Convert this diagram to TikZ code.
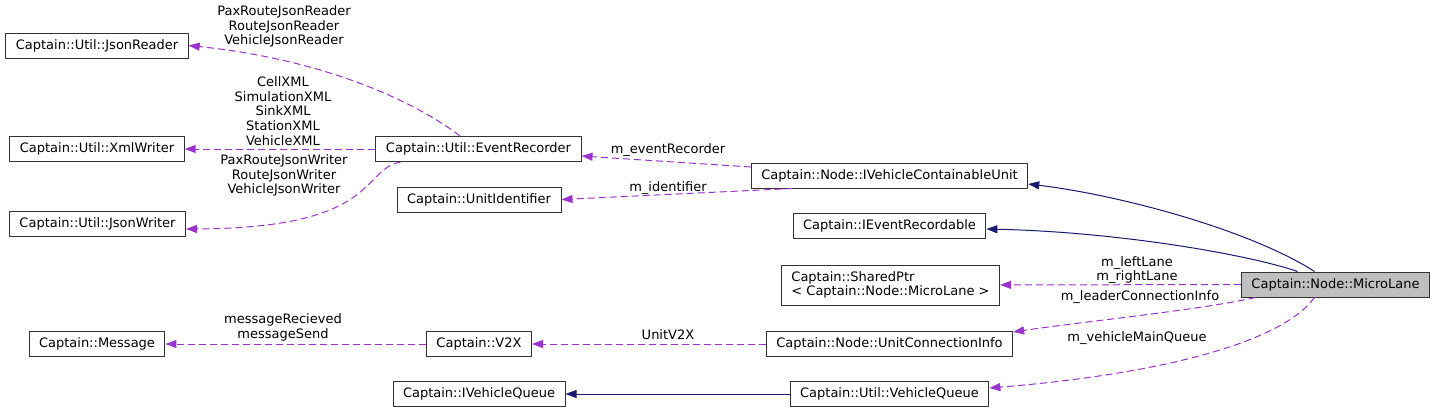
\documentclass[tikz,border=0pt]{standalone}
\usepackage{fontspec}
\setmainfont{DejaVu Sans}
\usetikzlibrary{arrows.meta,positioning}
\definecolor{inhblue}{HTML}{191970}
\definecolor{usepurple}{HTML}{9A32CD}
\definecolor{curgray}{HTML}{BFBFBF}

\begin{document}
\begin{tikzpicture}[x=1pt,y=-1pt,>={Triangle[length=11pt,width=8pt]},
 cls/.style={draw=black!80,line width=1pt,fill=white,minimum height=25pt,
 inner xsep=10pt,inner ysep=2pt,font=\fontsize{13}{14.6}\selectfont},
 uses/.style={->,usepurple,line width=1pt,dash pattern=on 7pt off 4pt},
 inherits/.style={->,inhblue,line width=1pt},
 lbl/.style={font=\fontsize{13}{14.6}\selectfont,align=center,inner sep=0pt}]
\useasboundingbox (0,0) rectangle (1436,413);
% classes
\node[cls] (jreader) at (97,45.5) {Captain::Util::JsonReader};
\node[cls] (xwriter) at (97,149) {Captain::Util::XmlWriter};
\node[cls] (jwriter) at (97.5,223.5) {Captain::Util::JsonWriter};
\node[cls] (recorder) at (478.5,149) {Captain::Util::EventRecorder};
\node[cls] (identifier) at (479,199.5) {Captain::UnitIdentifier};
\node[cls] (contunit) at (889.5,175.5) {Captain::Node::IVehicleContainableUnit};
\node[cls] (recordable) at (889.5,226) {Captain::IEventRecordable};
\node[cls,align=left,minimum height=40pt] (sharedptr) at (890.5,285)
 {Captain::SharedPtr\\< Captain::Node::MicroLane >};
\node[cls,fill=curgray] (microlane) at (1335.5,284.5) {Captain::Node::MicroLane};
\node[cls] (message) at (97,344) {Captain::Message};
\node[cls] (vtox) at (479,344) {Captain::V2X};
\node[cls] (connection) at (889.5,344) {Captain::Node::UnitConnectionInfo};
\node[cls] (ivqueue) at (479,394) {Captain::IVehicleQueue};
\node[cls] (vqueue) at (889.5,394) {Captain::Util::VehicleQueue};
% member labels
\node[lbl] (lreader) at (284,26.5) {PaxRouteJsonReader\\RouteJsonReader\\VehicleJsonReader};
\node[lbl] (lxml) at (283,111) {CellXML\\SimulationXML\\SinkXML\\StationXML\\VehicleXML};
\node[lbl] (lwriter) at (284,175.5) {PaxRouteJsonWriter\\RouteJsonWriter\\VehicleJsonWriter};
\node[lbl] (lrecorder) at (668,150.5) {m\_eventRecorder};
\node[lbl] (lidentifier) at (668,188) {m\_identifier};
\node[lbl] (llane) at (1137,270) {m\_leftLane\\m\_rightLane};
\node[lbl] (lleader) at (1140,297) {m\_leaderConnectionInfo};
\node[lbl] (lmainq) at (1137,338) {m\_vehicleMainQueue};
\node[lbl] (lunit) at (668,335) {UnitV2X};
\node[lbl] (lmessage) at (283,327.5) {messageRecieved\\messageSend};
% inheritance
\draw[inherits] ([xshift=-21pt]microlane.north) .. controls (1250,230) and (1120,195) .. ([yshift=-8.5pt]contunit.east);
\draw[inherits] ([xshift=-38pt]microlane.north) .. controls (1250,255) and (1120,232) .. ([yshift=-3pt]recordable.east);
\draw[inherits] (vqueue) -- (ivqueue);
% usage
\draw[uses] ([xshift=-18.5pt]recorder.north) .. controls (420,105) and (330,60) .. (jreader.east);
\draw[uses] (recorder) -- (xwriter);
\draw[uses] ([xshift=-78pt]recorder.south) .. controls (360,170) and (380,228) .. ([yshift=-5.5pt]jwriter.east);
\draw[uses] ([yshift=8.5pt]contunit.west) -- ([yshift=-7pt]recorder.east);
\draw[uses] ([xshift=-97pt]contunit.south) -- (identifier.east);
\draw[uses] (microlane) -- (sharedptr);
\draw[uses] ([xshift=-80pt]microlane.south) .. controls (1200,310) and (1080,322) .. ([yshift=-1pt]connection.north east);
\draw[uses] ([xshift=-21pt]microlane.south) .. controls (1280,345) and (1150,375) .. ([yshift=6pt]vqueue.east);
\draw[uses] (connection) -- (vtox);
\draw[uses] (vtox) -- (message);
\end{tikzpicture}
\end{document}
